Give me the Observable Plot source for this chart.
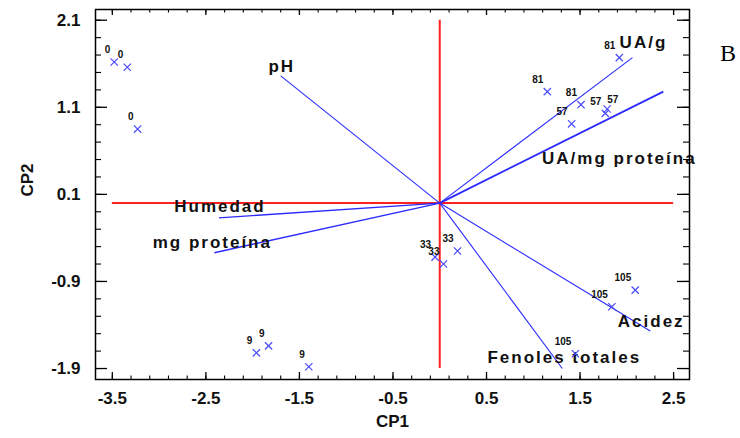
<!DOCTYPE html>
<html><head><meta charset="utf-8">
<script src="https://cdn.jsdelivr.net/npm/d3@7"></script>
<script src="https://cdn.jsdelivr.net/npm/@observablehq/plot@0.6"></script>
<style>
html,body{margin:0;padding:0;background:#fff;}
#chart{position:relative;width:740px;height:438px;}
</style>
</head><body><div id="chart"></div>
<script>
// Scores (samples)
const scoreLabels = ["0","0","0","81","81","81","57","57","57","33","33","33","9","9","9","105","105","105"];
const scoreX = [-3.48,-3.34,-3.23,1.92,1.15,1.51,1.41,1.77,1.79,-0.05,0.04,0.19,-1.96,-1.83,-1.40,2.09,1.84,1.45];
const scoreY = [1.62,1.56,0.85,1.67,1.28,1.13,0.91,1.03,1.08,-0.62,-0.70,-0.55,-1.72,-1.64,-1.88,-1.00,-1.19,-1.73];
// Loadings (variables)
const variableNames = ["UA/g","UA/mg proteína","pH","Humedad","mg proteína","Acidez","Fenoles totales"];
const loadingX = [2.06,2.39,-1.70,-2.36,-2.41,2.25,1.31];
const loadingY = [1.67,1.28,1.46,-0.17,-0.57,-1.47,-1.90];
// Axes
const xTicks = [-3.5,-2.5,-1.5,-0.5,0.5,1.5,2.5];
const yTicks = [-1.9,-0.9,0.1,1.1,2.1];
const xDomain = [-3.68, 2.67];
const yDomain = [-2.026, 2.223];
const refX = [-3.5, 2.5];
const refY = [-1.9, 2.1];

const W = 740, H = 438;
const mL = 95, mR = 51, mT = 9, mB = 59;
const innerW = W - mL - mR, innerH = H - mT - mB;
const xMinor = d3.range(0, 31).map(i => +(xTicks[0] + i * 0.2).toFixed(2));
const yMinor = d3.range(0, 21).map(i => +(yTicks[0] + i * 0.2).toFixed(2));

const scoreIdx = scoreLabels.map((_, i) => i);
const sideLabelIdx = [8]; // label drawn to the right of its marker
const loadIdx = variableNames.map((_, i) => i);
const labelOffsets = {
  "UA/g": [11, -15],
  "UA/mg proteína": [-44, 67],
  "pH": [1, -9],
  "Humedad": [1, -11],
  "mg proteína": [-2, -10],
  "Acidez": [1, -10],
  "Fenoles totales": [2, -11]
};
const blueLine = "#2b2bff";
const blueMark = "#4a4aff";

const fmt = d => d.toFixed(1);

const plot = Plot.plot({
  width: W, height: H,
  marginLeft: mL, marginRight: mR, marginTop: mT, marginBottom: mB,
  style: {fontFamily: "'Liberation Sans', Arial, sans-serif", fontSize: "17px", fontWeight: "bold", background: "#fff", overflow: "visible"},
  x: {domain: xDomain},
  y: {domain: yDomain},
  marks: [
    // reference lines
    Plot.ruleY([0], {x1: refX[0], x2: refX[1], stroke: "#ff2020", strokeWidth: 2}),
    Plot.ruleX([0], {y1: refY[0], y2: refY[1], stroke: "#ff2020", strokeWidth: 2}),
    // loading vectors
    Plot.link(loadIdx, {
      x1: () => 0, y1: () => 0,
      x2: i => loadingX[i], y2: i => loadingY[i],
      stroke: blueLine,
      strokeWidth: i => variableNames[i] === "UA/mg proteína" ? 1.8 : (variableNames[i] === "Humedad" || variableNames[i] === "mg proteína" ? 1.4 : 1.1)
    }),
    ...loadIdx.map(i => Plot.text([i], {
      x: j => loadingX[j], y: j => loadingY[j], text: j => variableNames[j],
      dx: labelOffsets[variableNames[i]][0], dy: labelOffsets[variableNames[i]][1],
      fontSize: 17, fontWeight: "bold", fill: "#111", textAnchor: "middle"
    })),
    // scores
    Plot.dot(scoreIdx, {x: i => scoreX[i], y: i => scoreY[i], symbol: "times", r: 3.4, stroke: blueMark, strokeWidth: 1.2}),
    Plot.text(scoreIdx.filter(i => !sideLabelIdx.includes(i)), {x: i => scoreX[i], y: i => scoreY[i], text: i => scoreLabels[i], textAnchor: "end", dx: -4, dy: -12, fontSize: 10, fontWeight: "bold", fill: "#111"}),
    Plot.text(sideLabelIdx, {x: i => scoreX[i], y: i => scoreY[i], text: i => scoreLabels[i], textAnchor: "start", dx: 0, dy: -9, fontSize: 10, fontWeight: "bold", fill: "#111"}),
    // inward ticks: bottom / top
    Plot.tickX(xTicks, {x: d => d, insetTop: innerH - 7, stroke: "#000", strokeWidth: 1.3}),
    Plot.tickX(xMinor, {x: d => d, insetTop: innerH - 3.5, stroke: "#000", strokeWidth: 1.1}),
    Plot.tickX(xTicks, {x: d => d, insetBottom: innerH - 6, stroke: "#000", strokeWidth: 1.3}),
    Plot.tickX(xMinor, {x: d => d, insetBottom: innerH - 3.5, stroke: "#000", strokeWidth: 1.1}),
    // inward ticks: left / right
    Plot.tickY(yTicks, {y: d => d, insetRight: innerW - 12, stroke: "#000", strokeWidth: 1.3}),
    Plot.tickY(yMinor, {y: d => d, insetRight: innerW - 6, stroke: "#000", strokeWidth: 1.1}),
    Plot.tickY(yTicks, {y: d => d, insetLeft: innerW - 12, stroke: "#000", strokeWidth: 1.3}),
    Plot.tickY(yMinor, {y: d => d, insetLeft: innerW - 6, stroke: "#000", strokeWidth: 1.1}),
    // tick labels
    Plot.axisX(xTicks, {tickSize: 0, tickPadding: 12, label: null, tickFormat: fmt, fontSize: 17, fontWeight: "bold", fill: "#111"}),
    Plot.axisY(yTicks, {tickSize: 0, tickPadding: 15, label: null, tickFormat: fmt, fontSize: 17, fontWeight: "bold", fill: "#111"}),
    // axis titles
    Plot.text(["CP1"], {frameAnchor: "bottom", text: d => d, dy: 47, fontSize: 17, fontWeight: "bold", fill: "#111"}),
    Plot.text(["CP2"], {frameAnchor: "left", text: d => d, dx: -68, dy: 2, rotate: -90, fontSize: 17, fontWeight: "bold", fill: "#111"}),
    // panel letter
    Plot.text(["B"], {frameAnchor: "top-right", text: d => d, dx: 38.5, dy: 34, fontSize: 24, fontWeight: "normal", fontFamily: "'Liberation Serif', 'Times New Roman', serif", fill: "#000", textAnchor: "middle"}),
    // frame
    Plot.frame({stroke: "#000", strokeWidth: 1.5})
  ]
});

d3.select(plot).selectAll("text")
  .filter(function() { return variableNames.includes(this.textContent); })
  .style("letter-spacing", "2px");

document.getElementById("chart").appendChild(plot);
</script>
</body></html>
